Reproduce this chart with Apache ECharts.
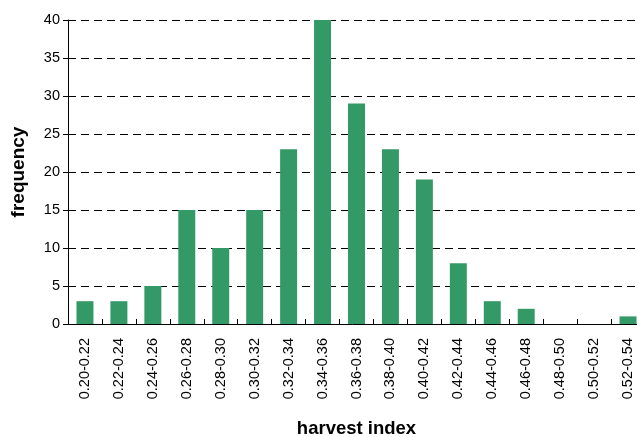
<!DOCTYPE html>
<html>
<head>
<meta charset="utf-8">
<script src="https://cdn.jsdelivr.net/npm/echarts@6/dist/echarts.min.js"></script>
<style>
html,body{margin:0;padding:0;background:#fff;}
#chart{width:637px;height:437px;}
</style>
</head>
<body>
<div id="chart"></div>
<script>
const categories = ["0.20-0.22","0.22-0.24","0.24-0.26","0.26-0.28","0.28-0.30","0.30-0.32","0.32-0.34","0.34-0.36","0.36-0.38","0.38-0.40","0.40-0.42","0.42-0.44","0.44-0.46","0.46-0.48","0.48-0.50","0.50-0.52","0.52-0.54"];
const frequency = [3,3,5,15,10,15,23,40,29,23,19,8,3,2,0,0,1];
const yTicks = [0,5,10,15,20,25,30,35,40];

const chart = echarts.init(document.getElementById('chart'), null, {renderer:'canvas'});
const font = 'Liberation Sans, Arial, sans-serif';
chart.setOption({
  animation: false,
  backgroundColor: '#ffffff',
  grid: {left: 68, top: 20, width: 577, height: 304, containLabel: false, outerBoundsMode: 'none'},
  xAxis: {
    type: 'category',
    data: categories,
    name: 'harvest index',
    nameLocation: 'middle',
    nameGap: 95,
    nameTextStyle: {fontFamily: font, fontSize: 18.5, fontWeight: 'bold', color: '#000'},
    axisLine: {lineStyle: {color: '#000', width: 1}},
    axisTick: {show: true, inside: true, length: 5, alignWithLabel: false, lineStyle: {color: '#000'}},
    axisLabel: {rotate: 90, fontFamily: font, fontSize: 14.5, color: '#000', margin: 14, interval: 0},
    splitLine: {show: false}
  },
  yAxis: {
    type: 'value',
    min: 0, max: 40, interval: 5,
    name: 'frequency',
    nameLocation: 'middle',
    nameGap: 40,
    nameRotate: 90,
    nameTextStyle: {fontFamily: font, fontSize: 19, fontWeight: 'bold', color: '#000'},
    axisLine: {show: true, lineStyle: {color: '#000', width: 1}},
    axisTick: {show: true, inside: false, length: 5, lineStyle: {color: '#000'}},
    axisLabel: {fontFamily: font, fontSize: 14.5, color: '#000', margin: 8,
      formatter: v => yTicks.includes(v) ? String(v) : ''},
    splitLine: {show: true, lineStyle: {color: '#000', width: 1, type: [8, 5]}}
  },
  series: [{
    type: 'bar',
    data: frequency,
    barWidth: '50%',
    itemStyle: {color: '#339966'}
  }]
});
</script>
</body>
</html>
